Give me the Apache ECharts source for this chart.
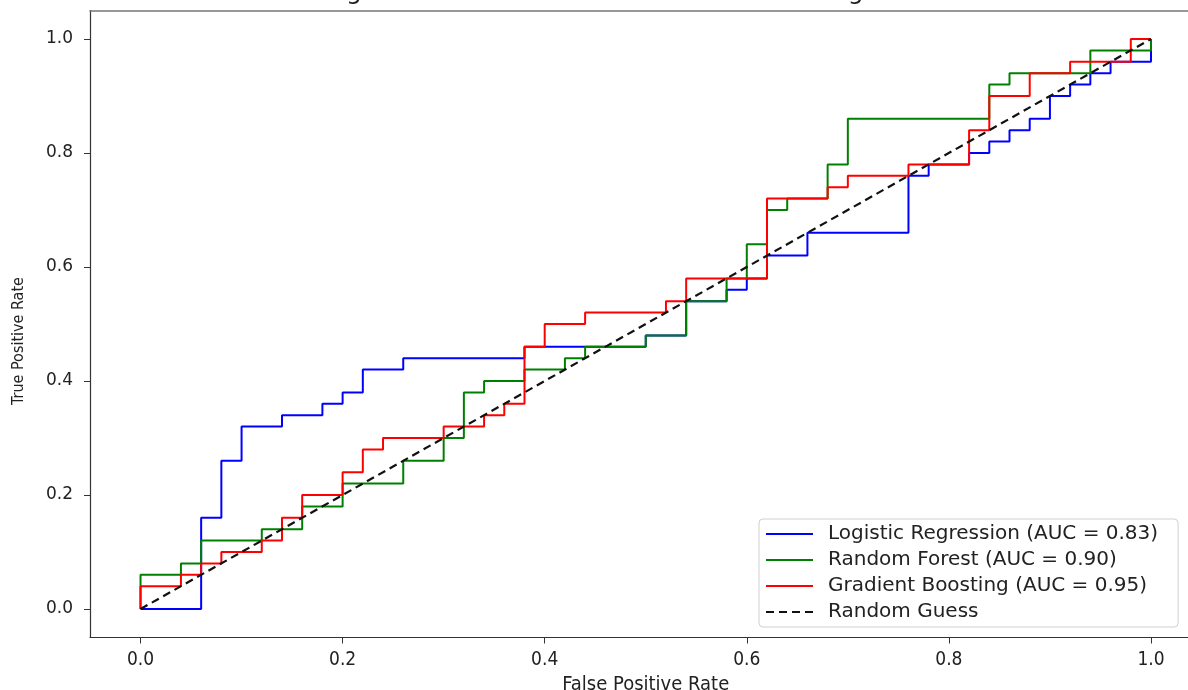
<!DOCTYPE html>
<html>
<head>
<meta charset="utf-8">
<script src="https://cdn.jsdelivr.net/npm/echarts@6/dist/echarts.min.js"></script>
<style>html,body{margin:0;padding:0;background:#fff;}#c{width:1188px;height:690px;}</style>
</head>
<body>
<div id="c"></div>
<script>
// ---- data (corner points of each ROC curve) ----
const tickValues = [0, 0.2, 0.4, 0.6, 0.8, 1.0];
const seriesNames = [
  'Logistic Regression (AUC = 0.83)',
  'Random Forest (AUC = 0.90)',
  'Gradient Boosting (AUC = 0.95)',
  'Random Guess'
];
const fprLR = [0,0.06,0.06,0.08,0.08,0.10,0.10,0.14,0.14,0.18,0.18,0.20,0.20,0.22,0.22,0.26,0.26,0.38,0.38,0.44,0.50,0.50,0.54,0.54,0.58,0.58,0.60,0.60,0.62,0.62,0.66,0.66,0.76,0.76,0.78,0.78,0.82,0.82,0.84,0.84,0.86,0.86,0.88,0.88,0.90,0.90,0.92,0.92,0.94,0.94,0.96,0.96,1.00,1.00];
const tprLR = [0,0,0.16,0.16,0.26,0.26,0.32,0.32,0.34,0.34,0.36,0.36,0.38,0.38,0.42,0.42,0.44,0.44,0.46,0.46,0.46,0.48,0.48,0.54,0.54,0.56,0.56,0.58,0.58,0.62,0.62,0.66,0.66,0.76,0.76,0.78,0.78,0.80,0.80,0.82,0.82,0.84,0.84,0.86,0.86,0.90,0.90,0.92,0.92,0.94,0.94,0.96,0.96,1.00];
const fprRF = [0,0,0.04,0.04,0.06,0.06,0.12,0.12,0.16,0.16,0.20,0.20,0.26,0.26,0.30,0.30,0.32,0.32,0.34,0.34,0.38,0.38,0.42,0.42,0.44,0.44,0.50,0.50,0.54,0.54,0.58,0.58,0.60,0.60,0.62,0.62,0.64,0.64,0.68,0.68,0.70,0.70,0.84,0.84,0.86,0.86,0.94,0.94,1.00,1.00];
const tprRF = [0,0.06,0.06,0.08,0.08,0.12,0.12,0.14,0.14,0.18,0.18,0.22,0.22,0.26,0.26,0.30,0.30,0.38,0.38,0.40,0.40,0.42,0.42,0.44,0.44,0.46,0.46,0.48,0.48,0.54,0.54,0.58,0.58,0.64,0.64,0.70,0.70,0.72,0.72,0.78,0.78,0.86,0.86,0.92,0.92,0.94,0.94,0.98,0.98,1.00];
const fprGB = [0,0,0.04,0.04,0.06,0.06,0.08,0.08,0.12,0.12,0.14,0.14,0.16,0.16,0.20,0.20,0.22,0.22,0.24,0.24,0.30,0.30,0.34,0.34,0.36,0.36,0.38,0.38,0.40,0.40,0.44,0.44,0.52,0.52,0.54,0.54,0.62,0.62,0.68,0.68,0.70,0.70,0.76,0.76,0.82,0.82,0.84,0.84,0.88,0.88,0.92,0.92,0.98,0.98,1.00];
const tprGB = [0,0.04,0.04,0.06,0.06,0.08,0.08,0.10,0.10,0.12,0.12,0.16,0.16,0.20,0.20,0.24,0.24,0.28,0.28,0.30,0.30,0.32,0.32,0.34,0.34,0.36,0.36,0.46,0.46,0.50,0.50,0.52,0.52,0.54,0.54,0.58,0.58,0.72,0.72,0.74,0.74,0.76,0.76,0.78,0.78,0.84,0.84,0.90,0.90,0.94,0.94,0.96,0.96,1.00,1.00];
const fprRand = [0, 1];
const tprRand = [0, 1];

const zip = (a, b) => a.map((v, i) => [v, b[i]]);
const condensed = "'DejaVu Sans Condensed','Liberation Sans Narrow','DejaVu Sans'";

const chart = echarts.init(document.getElementById('c'), null, {renderer: 'canvas'});
chart.setOption({
  animation: false,
  backgroundColor: '#ffffff',
  title: {
    text: 'Figure 2: ROC Curves for Machine Learning Models',
    left: 643, top: -20, textAlign: 'center', padding: 0,
    textStyle: {fontFamily: 'DejaVu Sans', fontSize: 25, fontWeight: 'normal', color: '#222'}
  },
  grid: {left: 90, top: 10.5, width: 1111.5, height: 627, outerBoundsMode: 'none', containLabel: false, show: false},
  xAxis: [{
    type: 'value', min: -0.05, max: 1.05,
    name: 'False Positive Rate', nameLocation: 'middle', nameGap: 32,
    nameTextStyle: {fontFamily: condensed, fontSize: 20, color: '#222'},
    axisLine: {show: true, onZero: false, lineStyle: {color: '#333', width: 1.2}},
    axisTick: {show: true, inside: false, length: 6, customValues: tickValues, lineStyle: {color: '#333'}},
    axisLabel: {customValues: tickValues, margin: 13, fontFamily: condensed, fontSize: 19, color: '#222', formatter: v => v.toFixed(1)},
    splitLine: {show: false}
  }, {
    type: 'value', position: 'top', min: -0.05, max: 1.05,
    axisLine: {show: true, onZero: false, lineStyle: {color: '#777', width: 1.5}},
    axisTick: {show: false}, axisLabel: {show: false}, splitLine: {show: false}
  }],
  yAxis: {
    type: 'value', min: -0.05, max: 1.05,
    name: 'True Positive Rate', nameLocation: 'middle', nameGap: 63, nameRotate: 90,
    nameTextStyle: {fontFamily: condensed, fontSize: 16, color: '#222', padding: [0, 34, 0, 0]},
    axisLine: {show: true, onZero: false, lineStyle: {color: '#333', width: 1.2}},
    axisTick: {show: true, inside: false, length: 6, customValues: tickValues, lineStyle: {color: '#333'}},
    axisLabel: {customValues: tickValues, margin: 17, fontFamily: 'DejaVu Sans', fontSize: 17, color: '#222', formatter: v => v.toFixed(1)},
    splitLine: {show: false}
  },
  legend: {
    orient: 'vertical', left: 759, top: 519,
    padding: [5, 20, 5, 6], itemGap: 6, itemWidth: 47, itemHeight: 14,
    backgroundColor: '#fff', borderColor: '#d0d0d0', borderWidth: 1, borderRadius: 4,
    data: seriesNames,
    itemStyle: {color: 'rgba(0,0,0,0)', borderWidth: 0, opacity: 0},
    textStyle: {fontFamily: 'DejaVu Sans', fontSize: 20, lineHeight: 20, color: '#222', padding: [0, 0, 0, 10]}
  },
  series: [
    {name: seriesNames[0], type: 'line', data: zip(fprLR, tprLR), showSymbol: false, symbol: 'none', lineStyle: {color: '#0000ff', width: 2}, itemStyle: {color: '#0000ff'}, z: 2},
    {name: seriesNames[1], type: 'line', data: zip(fprRF, tprRF), showSymbol: false, symbol: 'none', lineStyle: {color: '#008000', width: 2}, itemStyle: {color: '#008000'}, z: 3},
    {name: seriesNames[2], type: 'line', data: zip(fprGB, tprGB), showSymbol: false, symbol: 'none', lineStyle: {color: '#ff0000', width: 2}, itemStyle: {color: '#ff0000'}, z: 4},
    {name: seriesNames[3], type: 'line', data: zip(fprRand, tprRand), showSymbol: false, symbol: 'none', lineStyle: {color: '#111', width: 2.2, type: [8, 5]}, itemStyle: {color: '#111'}, z: 5}
  ]
});
</script>
</body>
</html>
